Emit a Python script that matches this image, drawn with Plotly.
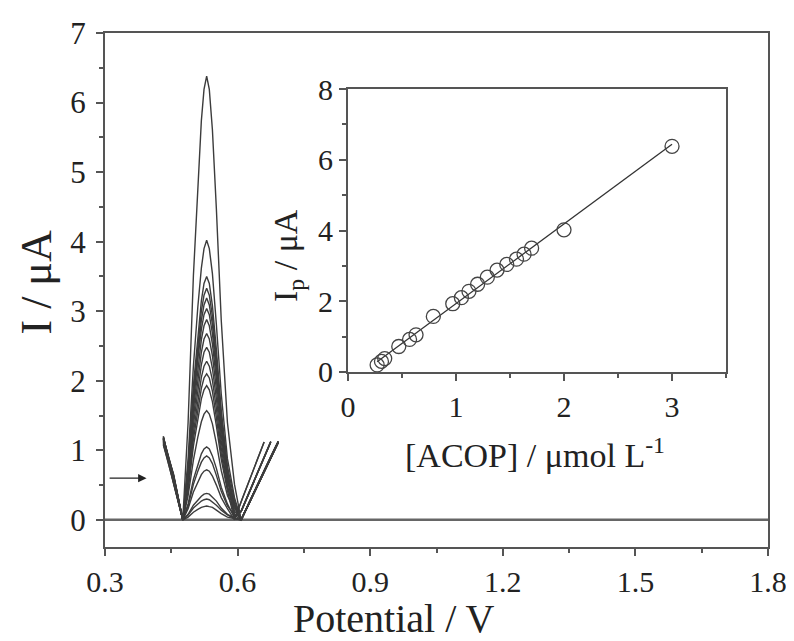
import numpy as np
import plotly.graph_objects as go

# ---------------- datos ----------------
# potenciales comunes de los voltamogramas (V)
potencial = [0.432, 0.455, 0.476, 0.488, 0.500, 0.510, 0.518, 0.524, 0.530, 0.536,
             0.543, 0.552, 0.563, 0.577, 0.593, 0.608, 0.625, 0.645, 0.660, 0.675, 0.692]

# corriente (uA) de cada voltamograma, de menor a mayor concentración
corrientes = [
    [1.10, 0.52, 0, 0.04, 0.11, 0.15, 0.18, 0.19, 0.20, 0.19, 0.18, 0.14, 0.09, 0.04, 0.02, 0, 0.23, 0.50, 0.70, 0.90, 1.12],
    [1.17, 0.62, 0, 0.07, 0.17, 0.23, 0.27, 0.29, 0.30, 0.29, 0.26, 0.21, 0.14, 0.07, 0.02, 0, 0.22, 0.49, 0.69, 0.89, 1.11],
    [1.08, 0.54, 0, 0.08, 0.21, 0.29, 0.34, 0.37, 0.38, 0.37, 0.33, 0.27, 0.17, 0.08, 0.03, 0, 0.24, 0.51, 0.71, 0.91, 1.13],
    [1.16, 0.64, 0, 0.16, 0.40, 0.55, 0.65, 0.70, 0.72, 0.70, 0.63, 0.50, 0.32, 0.16, 0.00, 0.26, 0.54, 0.87, 1.12, None, None],
    [1.20, 0.58, 0, 0.20, 0.51, 0.70, 0.83, 0.89, 0.92, 0.89, 0.81, 0.64, 0.41, 0.20, 0.07, 0, 0.23, 0.50, 0.70, 0.90, 1.12],
    [1.12, 0.66, 0, 0.23, 0.58, 0.80, 0.95, 1.02, 1.05, 1.02, 0.92, 0.74, 0.47, 0.23, 0.03, 0.12, 0.37, 0.67, 0.90, 1.12, None],
    [1.19, 0.56, 0, 0.35, 0.86, 1.19, 1.41, 1.52, 1.57, 1.52, 1.38, 1.10, 0.71, 0.35, 0.13, 0, 0.22, 0.49, 0.69, 0.89, 1.11],
    [1.14, 0.63, 0, 0.42, 1.06, 1.47, 1.74, 1.87, 1.93, 1.87, 1.70, 1.35, 0.87, 0.42, 0.00, 0.26, 0.54, 0.87, 1.12, None, None],
    [1.17, 0.53, 0, 0.46, 1.16, 1.60, 1.89, 2.04, 2.10, 2.04, 1.85, 1.47, 0.95, 0.46, 0.17, 0, 0.23, 0.50, 0.70, 0.90, 1.12],
    [1.09, 0.60, 0, 0.50, 1.25, 1.73, 2.05, 2.21, 2.28, 2.21, 2.01, 1.60, 1.03, 0.50, 0.05, 0.12, 0.37, 0.67, 0.90, 1.12, None],
    [1.18, 0.65, 0, 0.55, 1.36, 1.88, 2.23, 2.41, 2.48, 2.41, 2.18, 1.74, 1.12, 0.55, 0.20, 0, 0.24, 0.51, 0.71, 0.91, 1.13],
    [1.13, 0.57, 0, 0.59, 1.47, 2.04, 2.41, 2.60, 2.68, 2.60, 2.36, 1.88, 1.21, 0.59, 0.21, 0, 0.23, 0.50, 0.70, 0.90, 1.12],
    [1.17, 0.61, 0, 0.63, 1.58, 2.19, 2.59, 2.79, 2.88, 2.79, 2.53, 2.02, 1.30, 0.63, 0.06, 0.13, 0.38, 0.68, 0.91, 1.13, None],
    [1.20, 0.55, 0, 0.67, 1.67, 2.31, 2.74, 2.95, 3.04, 2.95, 2.68, 2.13, 1.37, 0.67, 0.24, 0, 0.22, 0.49, 0.69, 0.89, 1.11],
    [1.11, 0.62, 0, 0.70, 1.75, 2.42, 2.87, 3.09, 3.19, 3.09, 2.81, 2.23, 1.44, 0.70, 0.07, 0.12, 0.37, 0.67, 0.90, 1.12, None],
    [1.15, 0.59, 0, 0.73, 1.83, 2.53, 3.00, 3.23, 3.33, 3.23, 2.93, 2.33, 1.50, 0.73, 0.07, 0.12, 0.37, 0.67, 0.90, 1.12, None],
    [1.18, 0.64, 0, 0.77, 1.93, 2.66, 3.15, 3.40, 3.50, 3.40, 3.08, 2.45, 1.58, 0.77, 0.28, 0, 0.23, 0.50, 0.70, 0.90, 1.12],
    [1.16, 0.57, 0, 0.88, 2.21, 3.06, 3.62, 3.90, 4.02, 3.90, 3.54, 2.81, 1.81, 0.88, 0.32, 0, 0.24, 0.51, 0.71, 0.91, 1.13],
    [1.14, 0.60, 0, 1.40, 3.51, 4.85, 5.74, 6.19, 6.38, 6.19, 5.61, 4.47, 2.87, 1.40, 0.51, 0, 0.23, 0.50, 0.70, 0.90, 1.12],
]

# curva de calibración (inserto)
conc_acop = [0.27, 0.31, 0.34, 0.47, 0.57, 0.63, 0.79, 0.97, 1.05, 1.12,
             1.20, 1.29, 1.38, 1.47, 1.56, 1.63, 1.70, 2.00, 3.00]
ip = [0.20, 0.30, 0.38, 0.72, 0.92, 1.05, 1.57, 1.93, 2.10, 2.28,
      2.48, 2.68, 2.88, 3.04, 3.19, 3.33, 3.50, 4.02, 6.38]

# flecha
flecha_y = 0.6
flecha_x = [0.307, 0.394]

FUENTE = "Liberation Serif"
GRIS = "#555555"

fig = go.Figure()

# ---------- voltamogramas ----------
for serie in corrientes:
    fig.add_trace(go.Scatter(
        x=potencial, y=serie, mode="lines",
        line=dict(color="#3c3c3c", width=1.4),
        connectgaps=False, showlegend=False, hoverinfo="skip",
        xaxis="x", yaxis="y"
    ))

# línea de cero
fig.add_hline(y=0, line_color="#666666", line_width=2.5, layer="below")

# ---------- inserto: Ip vs [ACOP] ----------
pend, orden = np.polyfit(conc_acop, ip, 1)
x_fit = np.array([min(conc_acop), max(conc_acop)])
fig.add_trace(go.Scatter(
    x=x_fit, y=pend * x_fit + orden, mode="lines",
    line=dict(color="#333333", width=1.3),
    showlegend=False, hoverinfo="skip", xaxis="x2", yaxis="y2"
))
fig.add_trace(go.Scatter(
    x=conc_acop, y=ip, mode="markers",
    marker=dict(symbol="circle-open", size=14, color="#444444", line=dict(width=1.3)),
    showlegend=False, xaxis="x2", yaxis="y2"
))

# flecha
fig.add_annotation(
    x=flecha_x[1], y=flecha_y, ax=flecha_x[0], ay=flecha_y,
    xref="x", yref="y", axref="x", ayref="y",
    showarrow=True, arrowhead=2, arrowsize=1.2, arrowwidth=1.4,
    arrowcolor="#222222", text=""
)

# ---------- títulos de ejes (como anotaciones para fijar su posición) ----------
titulos = [
    dict(text="Potential / V", x=0.436, y=-0.140, size=40, angle=0),
    dict(text="I / μA", x=-0.103, y=0.514, size=44, angle=-90),
    dict(text="[ACOP] / μmol L<sup>-1</sup>", x=0.648, y=0.183, size=34, angle=0),
    dict(text="I<sub>p</sub> / μA", x=0.276, y=0.568, size=34, angle=-90),
]
for t in titulos:
    fig.add_annotation(
        text=t["text"], x=t["x"], y=t["y"], xref="paper", yref="paper",
        xanchor="center", yanchor="middle", showarrow=False, textangle=t["angle"],
        font=dict(size=t["size"], family=FUENTE, color="#222222")
    )

eje = dict(showline=True, linecolor=GRIS, linewidth=2, mirror=True,
           ticks="outside", ticklen=7, tickwidth=1.5, tickcolor=GRIS,
           showgrid=False, zeroline=False, automargin=False)

# la página añade 8 px de margen al cuerpo: se compensa en el tamaño
fig.update_layout(
    width=786, height=633,
    margin=dict(l=97, r=26, t=25, b=94),
    paper_bgcolor="white", plot_bgcolor="white",
    font=dict(family=FUENTE, color="#222222"),
    xaxis=dict(**eje, range=[0.3, 1.8], tick0=0.3, dtick=0.3,
               tickfont=dict(size=30, family=FUENTE), ticklabelstandoff=0,
               minor=dict(dtick=0.15, tick0=0.3, ticks="outside", ticklen=4, tickcolor=GRIS)),
    yaxis=dict(**eje, range=[-0.39, 7], tick0=0, dtick=1,
               tickfont=dict(size=31, family=FUENTE), ticklabelstandoff=4,
               minor=dict(dtick=0.5, ticks="outside", ticklen=4, tickcolor=GRIS)),
    xaxis2=dict(**eje, domain=[0.3665, 0.9367], anchor="y2", range=[0, 3.5], dtick=1,
                tickfont=dict(size=30, family=FUENTE),
                minor=dict(dtick=0.5, ticks="outside", ticklen=4, tickcolor=GRIS)),
    yaxis2=dict(**eje, domain=[0.3405, 0.891], anchor="x2", range=[0, 8], dtick=2,
                tickfont=dict(size=30, family=FUENTE),
                minor=dict(dtick=1, ticks="outside", ticklen=4, tickcolor=GRIS)),
)

fig.write_html("out.html")
